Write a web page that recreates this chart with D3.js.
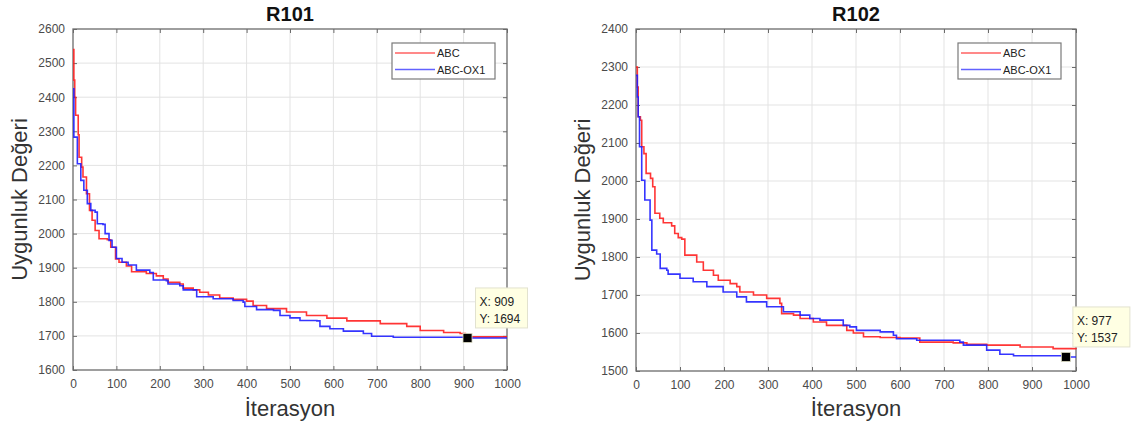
<!DOCTYPE html>
<html>
<head>
<meta charset="utf-8">
<script src="https://cdn.jsdelivr.net/npm/d3@7"></script>
<style>
  body { margin: 0; background: #fff; }
  svg { display: block; font-family: "Liberation Sans", Arial, sans-serif; }
</style>
</head>
<body>
<svg id="chart" width="1136" height="434"></svg>
<script>
// series: [iterasyon, uygunluk değeri]
const seriesNames = ["ABC", "ABC-OX1"];
const seriesColors = ["#ff1f1f", "#1f1fff"];

const r101ABC = [[0,2540],[2,2450],[4,2400],[6,2347],[12,2290],[14,2224],[20,2195],[23,2166],[31,2117],[38,2068],[44,2039],[51,2009],[60,1985],[79,1982],[87,1960],[98,1926],[106,1916],[123,1905],[135,1888],[169,1883],[192,1876],[208,1867],[219,1857],[246,1852],[254,1840],[277,1835],[292,1828],[312,1820],[338,1811],[369,1807],[400,1802],[415,1789],[446,1780],[492,1770],[538,1760],[585,1752],[631,1744],[708,1736],[769,1728],[800,1716],[854,1710],[892,1707],[904,1697],[1000,1697]];
const r101OX1 = [[0,2425],[2,2283],[10,2205],[18,2156],[25,2127],[33,2088],[41,2068],[51,2063],[56,2029],[69,2027],[74,2000],[83,1980],[90,1960],[100,1927],[113,1916],[127,1908],[146,1893],[177,1886],[185,1864],[215,1862],[219,1852],[246,1847],[254,1835],[285,1815],[315,1815],[323,1809],[369,1804],[392,1799],[396,1786],[423,1777],[462,1775],[477,1760],[500,1753],[523,1745],[562,1744],[569,1728],[592,1721],[623,1714],[669,1707],[688,1699],[738,1696],[909,1694],[1000,1694]];

const r102ABC = [[0,2300],[3,2247],[5,2169],[10,2160],[13,2090],[18,2072],[23,2020],[33,2007],[38,1985],[43,1915],[54,1902],[62,1890],[81,1882],[88,1862],[96,1851],[104,1847],[111,1805],[138,1787],[153,1765],[176,1752],[187,1739],[214,1730],[229,1722],[236,1708],[267,1700],[297,1691],[327,1678],[331,1651],[358,1647],[373,1638],[403,1629],[433,1620],[479,1607],[494,1600],[517,1590],[555,1588],[600,1587],[645,1576],[721,1574],[752,1570],[797,1568],[873,1563],[948,1559],[1000,1557]];
const r102OX1 = [[0,2278],[3,2221],[5,2169],[8,2090],[13,2002],[20,1950],[32,1897],[36,1818],[47,1808],[55,1770],[70,1765],[73,1755],[100,1744],[130,1735],[161,1722],[198,1708],[229,1695],[251,1682],[297,1669],[335,1656],[373,1647],[395,1638],[418,1634],[471,1620],[486,1616],[501,1607],[555,1603],[585,1594],[592,1585],[638,1581],[736,1576],[744,1568],[789,1568],[797,1555],[827,1544],[858,1540],[977,1537],[1000,1537]];

const xTicks = [0,100,200,300,400,500,600,700,800,900,1000];
const r101YTicks = [1600,1700,1800,1900,2000,2100,2200,2300,2400,2500,2600];
const r102YTicks = [1500,1600,1700,1800,1900,2000,2100,2200,2300,2400];

// data tips [x, y]
const r101Tip = [909, 1694];
const r102Tip = [977, 1537];

const svg = d3.select("#chart");
const fmt = d3.format("d");

function drawPanel(cfg) {
    const x = d3.scaleLinear().domain([0, 1000]).range([cfg.left, cfg.right]);
    const y = d3.scaleLinear().domain(d3.extent(cfg.yTicks)).range([cfg.bottom, cfg.top]);
    const g = svg.append("g");

    // grid
    g.append("g").selectAll("line").data(xTicks.slice(1, -1)).join("line")
        .attr("x1", d => x(d)).attr("x2", d => x(d))
        .attr("y1", cfg.top).attr("y2", cfg.bottom)
        .attr("stroke", "#e3e3e3").attr("stroke-width", 1);
    g.append("g").selectAll("line").data(cfg.yTicks.slice(1, -1)).join("line")
        .attr("y1", d => y(d)).attr("y2", d => y(d))
        .attr("x1", cfg.left).attr("x2", cfg.right)
        .attr("stroke", "#e3e3e3").attr("stroke-width", 1);

    // box with inward ticks on every side
    const axColor = "#6b6b6b";
    const tick = 4;
    g.append("g").attr("transform", `translate(0,${cfg.bottom})`)
        .call(d3.axisBottom(x).tickValues(xTicks).tickFormat(fmt).tickSizeInner(-tick).tickSizeOuter(0).tickPadding(9))
        .call(a => a.select(".domain").remove());
    g.append("g").attr("transform", `translate(0,${cfg.top})`)
        .call(d3.axisTop(x).tickValues(xTicks).tickSizeInner(-tick).tickSizeOuter(0).tickFormat(""))
        .call(a => a.select(".domain").remove());
    g.append("g").attr("transform", `translate(${cfg.left},0)`)
        .call(d3.axisLeft(y).tickValues(cfg.yTicks).tickFormat(fmt).tickSizeInner(-tick).tickSizeOuter(0).tickPadding(8))
        .call(a => a.select(".domain").remove());
    g.append("g").attr("transform", `translate(${cfg.right},0)`)
        .call(d3.axisRight(y).tickValues(cfg.yTicks).tickSizeInner(-tick).tickSizeOuter(0).tickFormat(""))
        .call(a => a.select(".domain").remove());
    g.selectAll(".tick line").attr("stroke", axColor);
    g.selectAll(".tick text").attr("fill", "#4a4a4a").attr("font-size", 12)
        .attr("font-family", "'Liberation Sans', Arial, sans-serif");

    g.append("rect")
        .attr("x", cfg.left).attr("y", cfg.top)
        .attr("width", cfg.right - cfg.left).attr("height", cfg.bottom - cfg.top)
        .attr("fill", "none").attr("stroke", axColor).attr("stroke-width", 1.3);

    // lines
    const line = d3.line().x(d => x(d[0])).y(d => y(d[1])).curve(d3.curveStepAfter);
    cfg.series.forEach((s, i) => {
        g.append("path").datum(s)
            .attr("fill", "none")
            .attr("stroke", seriesColors[i])
            .attr("stroke-opacity", 0.9)
            .attr("stroke-width", 1.6)
            .attr("d", line);
    });

    // title and labels
    const cx = (cfg.left + cfg.right) / 2;
    svg.append("text").attr("x", cx).attr("y", 21)
        .attr("text-anchor", "middle").attr("font-weight", "bold")
        .attr("font-size", 20).attr("fill", "#111").text(cfg.title);
    svg.append("text").attr("x", cx).attr("y", 416)
        .attr("text-anchor", "middle").attr("font-size", 22).attr("fill", "#333")
        .text("İterasyon");
    svg.append("text")
        .attr("transform", `translate(${cfg.left - 46},${(cfg.top + cfg.bottom) / 2}) rotate(-90)`)
        .attr("text-anchor", "middle").attr("font-size", 22).attr("fill", "#333")
        .text("Uygunluk Değeri");

    // legend
    const lg = g.append("g").attr("transform", `translate(${cfg.legendX},43)`);
    lg.append("rect").attr("width", 103).attr("height", 36)
        .attr("fill", "#fff").attr("stroke", "#7a7a7a").attr("stroke-width", 1.2);
    seriesNames.forEach((n, i) => {
        const yy = 10 + i * 16.5;
        lg.append("line").attr("x1", 3).attr("x2", 43).attr("y1", yy).attr("y2", yy)
            .attr("stroke", seriesColors[i]).attr("stroke-opacity", 0.7).attr("stroke-width", 1.6);
        lg.append("text").attr("x", 45).attr("y", yy + 4)
            .attr("font-size", 11).attr("fill", "#222").text(n);
    });

    // data tip
    const tx = x(cfg.tip[0]), ty = y(cfg.tip[1]);
    g.append("rect").attr("x", tx - 4.5).attr("y", ty - 4.5).attr("width", 9).attr("height", 9)
        .attr("fill", "#000").attr("stroke", "#d8d8c0").attr("stroke-width", 0.8);
    const tg = g.append("g").attr("transform", `translate(${tx + cfg.tipDx},${ty + cfg.tipDy})`);
    tg.append("rect").attr("width", cfg.tipW).attr("height", 40)
        .attr("fill", "#ffffe3").attr("stroke", "#e2e2cf").attr("stroke-width", 1);
    tg.append("text").attr("x", 4).attr("y", 18).attr("font-size", 12).attr("fill", "#222")
        .text(`X: ${cfg.tip[0]}`);
    tg.append("text").attr("x", 4).attr("y", 35).attr("font-size", 12).attr("fill", "#222")
        .text(`Y: ${cfg.tip[1]}`);
}

drawPanel({
    title: "R101", left: 73, right: 507, top: 29, bottom: 370,
    yTicks: r101YTicks, series: [r101ABC, r101OX1],
    legendX: 392, tip: r101Tip, tipDx: 8, tipDy: -50, tipW: 52
});
drawPanel({
    title: "R102", left: 636, right: 1076, top: 29, bottom: 371,
    yTicks: r102YTicks, series: [r102ABC, r102OX1],
    legendX: 958, tip: r102Tip, tipDx: 7, tipDy: -50, tipW: 57
});
</script>
</body>
</html>
